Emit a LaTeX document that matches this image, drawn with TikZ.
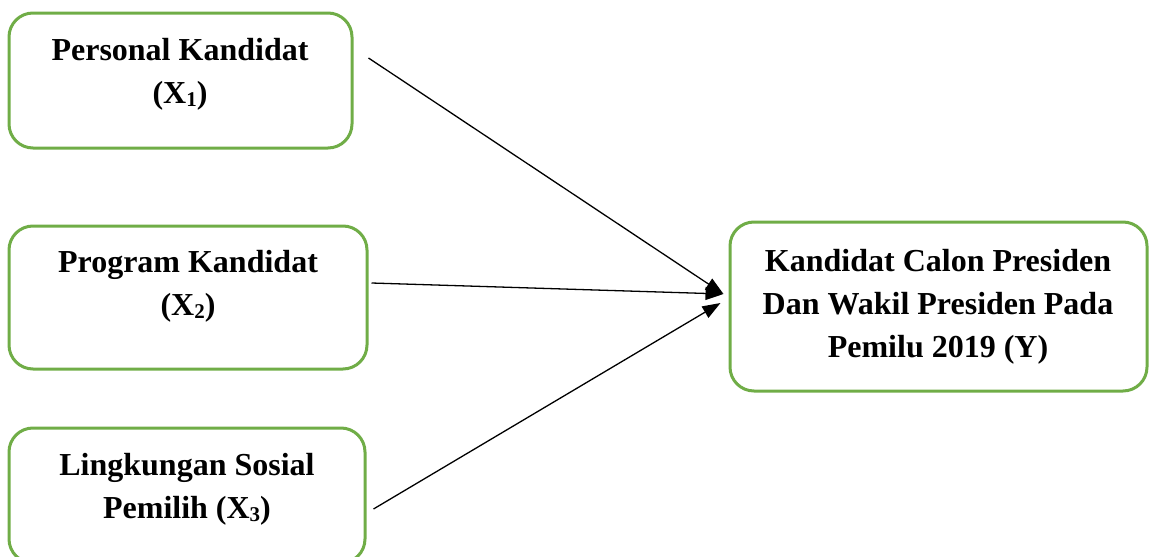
\documentclass[tikz,border=0pt]{standalone}
\usepackage{fontspec}
\setmainfont{Liberation Serif}
\usetikzlibrary{arrows.meta,calc}
\definecolor{boxgreen}{HTML}{70AD47}
\newcommand{\sbs}[1]{\raisebox{-0.12em}{\fontsize{21}{21}\selectfont #1}}
\begin{document}
\begin{tikzpicture}[x=1pt,y=-1pt,
  box/.style={draw=boxgreen, line width=3pt, rounded corners=24pt, inner sep=0pt},
  lbl/.style={align=center, inner sep=0pt, font=\fontsize{32}{43}\selectfont\bfseries, anchor=base},
  conn/.style={line width=1.3pt, -{Triangle[length=18pt,width=13pt]}}]
\useasboundingbox (0,0) rectangle (1149,557);
\begin{scope}
\clip (0,0) rectangle (1149,557);
\node[box, minimum width=343, minimum height=135] (b1) at (180.5,80.5) {};
\node[box, minimum width=358, minimum height=143] (b2) at (188,297.5) {};
\node[box, minimum width=356, minimum height=135] (b3) at (187,495.5) {};
\node[box, minimum width=417, minimum height=169] (by) at (938.5,306.5) {};
\end{scope}
\node[lbl] (t1) at (180,103) {Personal Kandidat\\(X\sbs{1})};
\node[lbl] (t2) at (188,315) {Program Kandidat\\(X\sbs{2})};
\node[lbl] (t3) at (187,518) {Lingkungan Sosial\\Pemilih (X\sbs{3})};
\node[lbl] (ty) at (938,357) {Kandidat Calon Presiden\\Dan Wakil Presiden Pada\\Pemilu 2019 (Y)};
\coordinate (s1) at ($(b1.east)+(15,-22.5)$);
\coordinate (s2) at ($(b2.east)+(3,-14.5)$);
\coordinate (s3) at ($(b3.east)+(7,13.5)$);
\coordinate (e1) at ($(by.west)+(-5,-12.5)$);
\coordinate (e3) at ($(by.west)+(-8,-3.5)$);
\draw[conn] (s1) -- (e1);
\draw[conn] (s2) -- (e1);
\draw[conn] (s3) -- (e3);
\end{tikzpicture}
\end{document}
